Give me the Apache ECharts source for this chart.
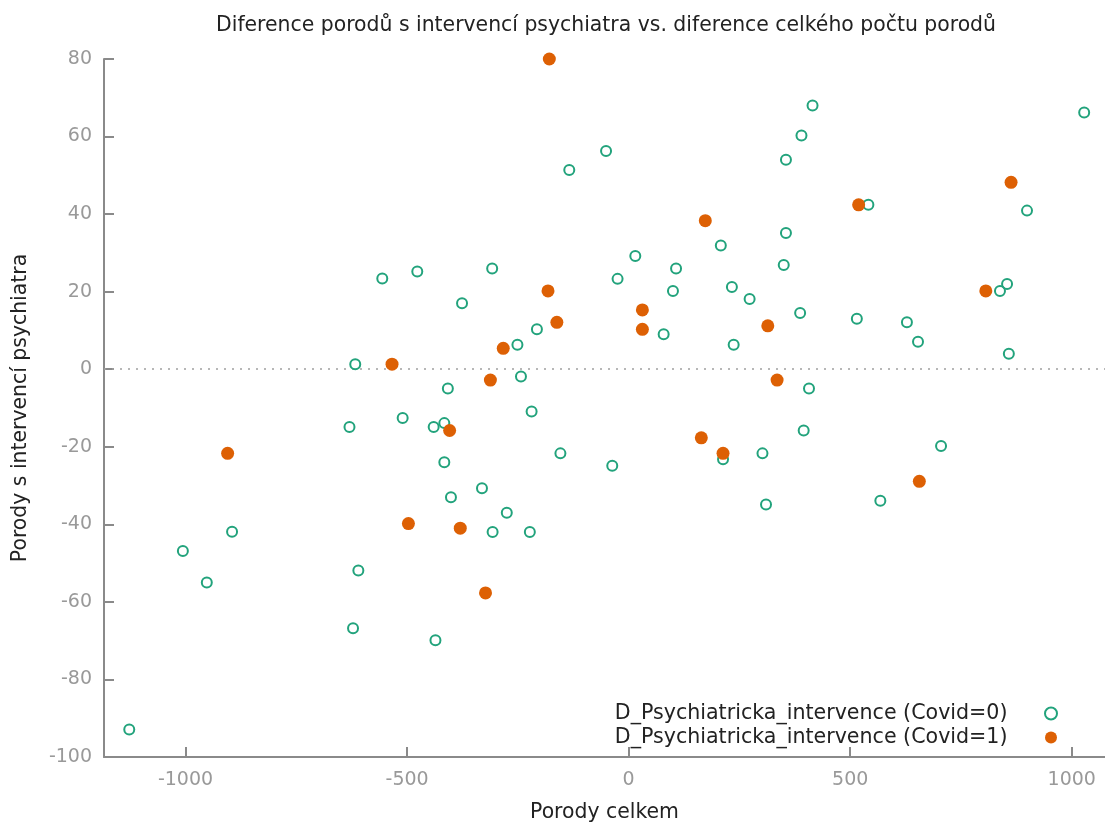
<!DOCTYPE html>
<html>
<head>
<meta charset="utf-8">
<title>Diference porodů</title>
<script src="https://cdn.jsdelivr.net/npm/echarts@6/dist/echarts.min.js"></script>
<style>
  html, body { margin: 0; padding: 0; background: #fff; }
  #chart { width: 1105px; height: 823px; }
</style>
</head>
<body>
<div id="chart"></div>
<script>
// Covid = 0 (open circles)
const covid0Total = [-1127, -1006, -952, -895, -630, -622, -617, -610, -556, -510,
  -477, -440, -436, -416, -416, -408, -401, -376, -331, -308,
  -307, -275, -251, -243, -223, -219, -207, -154, -134, -51,
  -37, -25, 15, 79, 100, 107, 208, 213, 233, 237,
  273, 302, 310, 350, 355, 355, 387, 390, 395, 407,
  415, 515, 541, 568, 628, 653, 705, 838, 854, 858,
  899, 1028];
const covid0Psych = [-92.9, -46.9, -55.0, -41.9, -14.9, -66.8, 1.3, -51.9, 23.4, -12.6,
  25.2, -14.9, -69.9, -13.9, -24.0, -5.0, -33.0, 17.0, -30.7, 26.0,
  -42.0, -37.0, 6.3, -1.9, -42.0, -10.9, 10.3, -21.7, 51.4, 56.3,
  -24.9, 23.3, 29.2, 9.0, 20.2, 26.0, 31.9, -23.2, 21.2, 6.3,
  18.1, -21.7, -34.9, 26.9, 35.1, 54.0, 14.5, 60.3, -15.8, -5.0,
  68.0, 13.0, 42.4, -33.9, 12.1, 7.1, -19.8, 20.2, 22.0, 4.0,
  40.9, 66.2];

// Covid = 1 (filled circles)
const covid1Total = [-905, -534, -497, -404, -380, -323, -312, -283, -182, -179,
  -162, 31, 31, 164, 173, 213, 314, 335, 519, 656,
  806, 863];
const covid1Psych = [-21.7, 1.3, -39.8, -15.8, -41.0, -57.7, -2.8, 5.4, 20.2, 80.0,
  12.1, 15.3, 10.3, -17.7, 38.3, -21.7, 11.2, -2.8, 42.4, -28.9,
  20.2, 48.2];

const xTicks = [-1000, -500, 0, 500, 1000];
const names = ['D_Psychiatricka_intervence (Covid=0)', 'D_Psychiatricka_intervence (Covid=1)'];

const font = 'DejaVu Sans, Verdana, sans-serif';
const axisColor = '#8a8a8a';
const labelColor = '#999999';

function zip(xs, ys) {
  return xs.map((x, i) => [x, ys[i]]);
}

const option = {
  animation: false,
  title: {
    text: 'Diference porodů s intervencí psychiatra vs. diference celkého počtu porodů',
    left: 606,
    top: 16,
    padding: 0,
    textAlign: 'center',
    textStyle: { fontFamily: font, fontSize: 20.4, fontWeight: 'normal', color: '#222' }
  },
  grid: {
    left: 104,
    right: 0,
    top: 59,
    bottom: 66,
    containLabel: false,
    outerBoundsMode: 'none'
  },
  legend: {
    orient: 'vertical',
    right: 47,
    top: 703,
    padding: 0,
    itemGap: 3,
    itemWidth: 77,
    itemHeight: 12,
    align: 'right',
    textStyle: { fontFamily: font, fontSize: 20.6, color: '#222' },
    data: names
  },
  xAxis: {
    type: 'value',
    min: -1184,
    max: 1075,
    name: 'Porody celkem',
    nameLocation: 'middle',
    nameGap: 46,
    nameTextStyle: { fontFamily: font, fontSize: 20.4, color: '#222' },
    axisLine: { show: true, onZero: false, lineStyle: { color: axisColor, width: 2 } },
    axisTick: { show: true, inside: true, length: 10, customValues: xTicks, lineStyle: { color: axisColor, width: 2 } },
    axisLabel: {
      customValues: xTicks,
      formatter: v => String(v),
      color: labelColor, fontFamily: font, fontSize: 19, margin: 14
    },
    splitLine: { show: false }
  },
  yAxis: {
    type: 'value',
    min: -100,
    max: 80,
    interval: 20,
    name: 'Porody s intervencí psychiatra',
    nameLocation: 'middle',
    nameGap: 73,
    nameTextStyle: { fontFamily: font, fontSize: 20.4, color: '#222' },
    axisLine: { show: true, onZero: false, lineStyle: { color: axisColor, width: 2 } },
    axisTick: { show: true, inside: true, length: 10, lineStyle: { color: axisColor, width: 2 } },
    axisLabel: { formatter: v => String(v), color: labelColor, fontFamily: font, fontSize: 19, margin: 12 },
    splitLine: { show: false }
  },
  series: [
    {
      name: names[0],
      type: 'scatter',
      symbol: 'circle',
      symbolSize: 10,
      data: zip(covid0Total, covid0Psych),
      itemStyle: { color: 'rgba(255,255,255,0)', borderColor: '#22a37c', borderWidth: 2, opacity: 1 },
      markLine: {
        silent: true,
        symbol: 'none',
        z: 1,
        label: { show: false },
        lineStyle: { color: '#a0a0a0', type: [2, 6], width: 1.5 },
        data: [{ yAxis: 0 }]
      }
    },
    {
      name: names[1],
      type: 'scatter',
      symbol: 'circle',
      symbolSize: 13,
      data: zip(covid1Total, covid1Psych),
      itemStyle: { color: '#dd6004', opacity: 1 }
    }
  ]
};

const myChart = echarts.init(document.getElementById('chart'));
myChart.setOption(option);
</script>
</body>
</html>
